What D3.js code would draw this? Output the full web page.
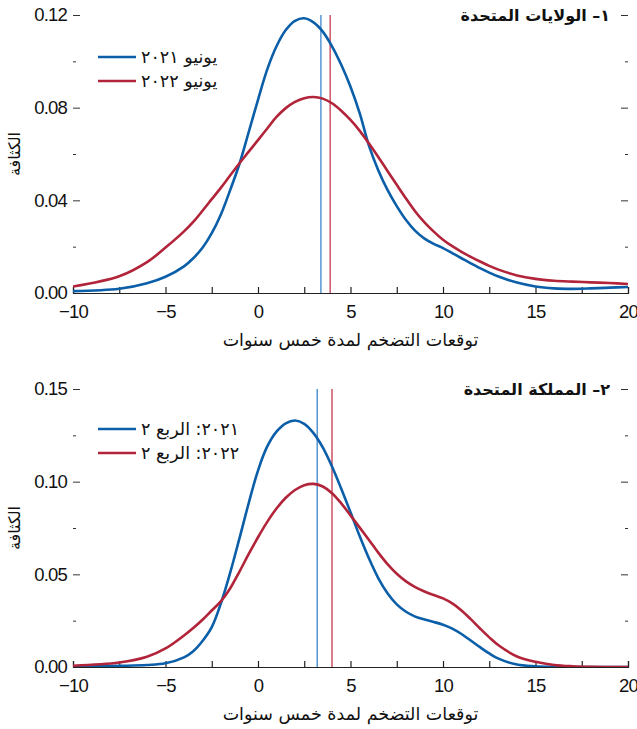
<!DOCTYPE html>
<html lang="ar">
<head>
<meta charset="utf-8">
<script src="https://cdn.jsdelivr.net/npm/d3@7"></script>
<style>
  html, body { margin: 0; padding: 0; background: #fff; }
  svg { display: block; }
  .num { font-family: "Liberation Sans", Arial, sans-serif; font-size: 18.5px; letter-spacing: -0.8px; fill: #111; }
  .ar { font-family: "DejaVu Sans", "Noto Sans", sans-serif; fill: #111; }
</style>
</head>
<body>
<svg id="chart" width="637" height="729"></svg>
<script>
// ---------- DATA ----------
const xGrid = [-10,-7.5,-6,-5,-4,-3.5,-3,-2.5,-2,-1.5,-1,-0.5,0,0.5,1,1.5,2,2.5,3,3.5,4,4.5,5,5.5,6,6.5,7,7.5,8,8.5,9,9.5,10,10.5,11,11.5,12,12.5,13,14,15,16,17,18,19,20];

// Panel 1: United States
const usJun2021 = [0.0008,0.0018,0.0042,0.0070,0.0115,0.0150,0.0195,0.0258,0.0340,0.0445,0.0558,0.0695,0.0834,0.0965,0.1065,0.1135,0.1175,0.1186,0.1168,0.1128,0.1065,0.0985,0.0890,0.0775,0.0635,0.0530,0.0445,0.0375,0.0315,0.0268,0.0235,0.0212,0.0194,0.0172,0.0150,0.0128,0.0107,0.0088,0.0071,0.0045,0.0028,0.0020,0.0018,0.0020,0.0023,0.0026];
const usJun2022 = [0.0028,0.0072,0.0133,0.0196,0.0266,0.0307,0.0355,0.0405,0.0455,0.0508,0.0560,0.0610,0.0660,0.0710,0.0760,0.0798,0.0825,0.0841,0.0846,0.0839,0.0819,0.0787,0.0747,0.0700,0.0645,0.0587,0.0527,0.0467,0.0408,0.0352,0.0305,0.0265,0.0230,0.0202,0.0178,0.0156,0.0136,0.0117,0.0101,0.0076,0.0061,0.0053,0.0049,0.0046,0.0043,0.0039];

// Panel 2: United Kingdom
const ukQ2021 = [0.0000,0.0006,0.0011,0.0020,0.0052,0.0085,0.0140,0.0215,0.0345,0.0510,0.0695,0.0885,0.1060,0.1190,0.1270,0.1315,0.1330,0.1312,0.1262,0.1185,0.1082,0.0962,0.0835,0.0705,0.0585,0.0480,0.0398,0.0338,0.0298,0.0272,0.0256,0.0243,0.0228,0.0207,0.0178,0.0143,0.0107,0.0073,0.0045,0.0013,0.0004,0.0001,0.0000,0.0000,0.0000,0.0000];
const ukQ2022 = [0.0007,0.0024,0.0055,0.0100,0.0170,0.0210,0.0255,0.0305,0.0355,0.0425,0.0515,0.0610,0.0700,0.0783,0.0855,0.0913,0.0955,0.0981,0.0988,0.0974,0.0938,0.0883,0.0818,0.0752,0.0685,0.0617,0.0555,0.0503,0.0462,0.0431,0.0407,0.0388,0.0370,0.0343,0.0305,0.0258,0.0208,0.0160,0.0117,0.0057,0.0028,0.0011,0.0004,0.0001,0.0000,0.0000];

// medians (vertical lines)
const usMedians = [3.4, 3.9];
const ukMedians = [3.2, 4.0];

const usLegend = ["يونيو ٢٠٢١", "يونيو ٢٠٢٢"];
const ukLegend = ["٢٠٢١: الربع ٢", "٢٠٢٢: الربع ٢"];
const usTitle = "١– الولايات المتحدة";
const ukTitle = "٢– المملكة المتحدة";
const xTitle = "توقعات التضخم لمدة خمس سنوات";
const yTitle = "الكثافة";

const xTickValues = [-10,-5,0,5,10,15,20];
const xMinorTicks = [-10,-7.5,-5,-2.5,0,2.5,5,7.5,10,12.5,15,17.5,20];
const usYTicks = [0,0.04,0.08,0.12];
const usYMinor = [0.02,0.06,0.10];
const ukYTicks = [0,0.05,0.10,0.15];
const ukYMinor = [0.025,0.075,0.125];

// ---------- STYLE ----------
const colors = ["#0b5ea8", "#b1243a"];
const medColors = ["#3d86cc", "#c43a4d"];

const svg = d3.select("#chart");
const L = 73, R = 628;
const x = d3.scaleLinear().domain([-10, 20]).range([L, R]);

function panel(cfg) {
  const { top, bottom, yMax, series, medians, legend, title, yTicks, yMinor, id, legTop } = cfg;
  const y = d3.scaleLinear().domain([0, yMax]).range([bottom, top]);
  const g = svg.append("g");

  g.append("clipPath").attr("id", id).append("rect")
    .attr("x", L).attr("y", top - 5).attr("width", R - L).attr("height", bottom - top + 5);

  // x axis (ticks pointing up)
  const xAxis = d3.axisBottom(x).tickValues(xMinorTicks).tickSize(-6).tickFormat("");
  const gx = g.append("g").attr("transform", `translate(0,${bottom})`).call(xAxis);
  gx.select(".domain").attr("stroke", "#222").attr("stroke-width", 1.2);
  gx.selectAll(".tick line").attr("stroke", "#222").attr("stroke-width", 1.2);

  const xl = d3.axisBottom(x).tickValues(xTickValues).tickSize(0).tickPadding(12).tickFormat(d3.format("d"));
  const gxl = g.append("g").attr("transform", `translate(0,${bottom})`).call(xl);
  gxl.select(".domain").remove();
  gxl.selectAll("text").attr("class", "num").attr("font-size", null).attr("font-family", null).attr("fill", null);

  // y axis left (labels + inward ticks, no domain line)
  const yl = d3.axisLeft(y).tickValues(yTicks).tickSize(0).tickPadding(6).tickFormat(d3.format(".2f"));
  const gyl = g.append("g").attr("transform", `translate(${L},0)`).call(yl);
  gyl.select(".domain").remove();
  gyl.selectAll("text").attr("class", "num").attr("font-size", null).attr("font-family", null).attr("fill", null);

  const majorL = d3.axisRight(y).tickValues(yTicks.filter(d => d > 0)).tickSize(7).tickFormat("");
  const gml = g.append("g").attr("transform", `translate(${L},0)`).call(majorL);
  gml.select(".domain").remove();
  gml.selectAll(".tick line").attr("stroke", "#333");
  const minorL = d3.axisRight(y).tickValues(yMinor).tickSize(3).tickFormat("");
  const gnl = g.append("g").attr("transform", `translate(${L},0)`).call(minorL);
  gnl.select(".domain").remove();
  gnl.selectAll(".tick line").attr("stroke", "#333");

  // y axis right mirror ticks
  const majorR = d3.axisLeft(y).tickValues(yTicks.filter(d => d > 0)).tickSize(7).tickFormat("");
  const gmr = g.append("g").attr("transform", `translate(${R},0)`).call(majorR);
  gmr.select(".domain").remove();
  gmr.selectAll(".tick line").attr("stroke", "#333");
  const minorR = d3.axisLeft(y).tickValues(yMinor).tickSize(3).tickFormat("");
  const gnr = g.append("g").attr("transform", `translate(${R},0)`).call(minorR);
  gnr.select(".domain").remove();
  gnr.selectAll(".tick line").attr("stroke", "#333");

  // median lines
  g.selectAll(".med").data(medians).join("line")
    .attr("x1", d => x(d)).attr("x2", d => x(d))
    .attr("y1", y(yMax)).attr("y2", y(0))
    .attr("stroke", (d, i) => medColors[i]).attr("stroke-width", 1.3);

  // curves
  const line = d3.line().x((d, i) => x(xGrid[i])).y(d => y(d)).curve(d3.curveCatmullRom.alpha(0.5));
  g.append("g").attr("clip-path", `url(#${id})`)
    .selectAll("path").data(series).join("path")
    .attr("d", d => line(d))
    .attr("fill", "none")
    .attr("stroke", (d, i) => colors[i])
    .attr("stroke-width", 2.6)
    .attr("stroke-linejoin", "round");

  // legend
  const lg = g.append("g");
  legend.forEach((t, i) => {
    const ly = top + legTop + i * 24;
    lg.append("line").attr("x1", 98).attr("x2", 136).attr("y1", ly).attr("y2", ly)
      .attr("stroke", colors[i]).attr("stroke-width", 2.6);
    lg.append("text").attr("class", "ar").attr("x", 141).attr("y", ly + 6)
      .attr("font-size", 17.5).attr("text-anchor", "start").attr("direction", "ltr")
      .style("unicode-bidi", "plaintext")
      .text(t);
  });

  // title
  g.append("text").attr("class", "ar").attr("x", 610).attr("y", top + 6)
    .attr("font-size", 16).attr("font-weight", "bold")
    .attr("direction", "rtl").attr("text-anchor", "start")
    .text(title);

  // x title
  g.append("text").attr("class", "ar").attr("x", (L + R) / 2).attr("y", bottom + 53)
    .attr("font-size", 17.5).attr("text-anchor", "middle").attr("direction", "rtl")
    .text(xTitle);

  // y title
  g.append("text").attr("class", "ar")
    .attr("transform", `translate(20,${(top + bottom) / 2}) rotate(-90)`)
    .attr("font-size", 16).attr("text-anchor", "middle").attr("direction", "rtl")
    .text(yTitle);
}

panel({ id: "c1", top: 15, bottom: 293, yMax: 0.12, series: [usJun2021, usJun2022], medians: usMedians,
  legend: usLegend, title: usTitle, yTicks: usYTicks, yMinor: usYMinor, legTop: 42 });
panel({ id: "c2", top: 389, bottom: 667, yMax: 0.15, series: [ukQ2021, ukQ2022], medians: ukMedians,
  legend: ukLegend, title: ukTitle, yTicks: ukYTicks, yMinor: ukYMinor, legTop: 40 });
</script>
</body>
</html>
